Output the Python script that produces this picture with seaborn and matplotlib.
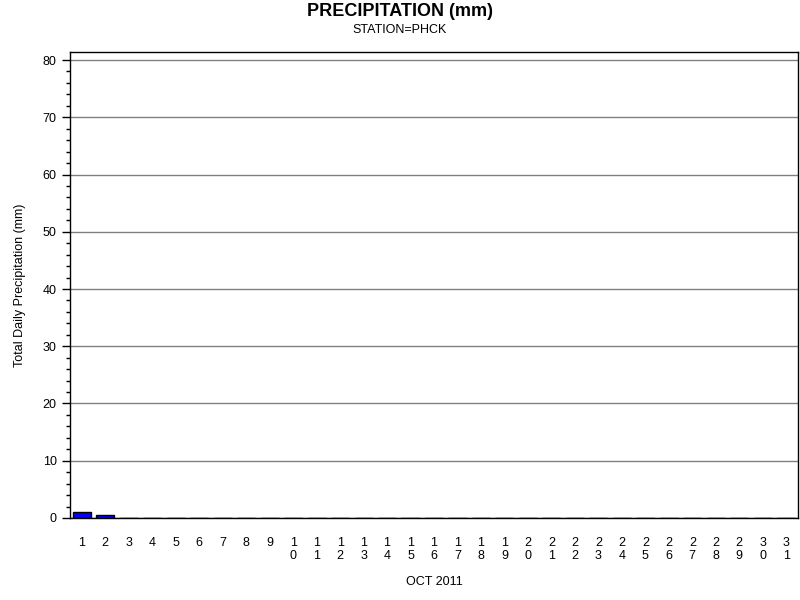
import pandas as pd
import matplotlib
matplotlib.use("Agg")
import matplotlib.pyplot as plt
from matplotlib.ticker import MultipleLocator
import seaborn as sns

# daily totals, Oct 2011, station PHCK
days = list(range(1, 32))
precip = [1.0, 0.5] + [0.0] * 29
day_labels = ["\n".join(str(d)) for d in days]

df = pd.DataFrame({"day": [str(d) for d in days], "precip": precip})

sns.set_style("white")
plt.rcParams["font.family"] = ["Liberation Sans", "DejaVu Sans"]
plt.rcParams["text.color"] = "black"
plt.rcParams["axes.labelcolor"] = "black"
plt.rcParams["xtick.color"] = "black"
plt.rcParams["ytick.color"] = "black"

fig = plt.figure(figsize=(8, 6), dpi=100)
ax = fig.add_axes([0.0875, 0.1367, 0.91, 0.7766])

sns.barplot(data=df, x="day", y="precip", order=[str(d) for d in days],
            color="#0000ff", edgecolor="black", linewidth=1, width=0.77,
            saturation=1, ax=ax, zorder=3)

ax.set_xlim(-0.5, 30.5)
ax.set_ylim(0, 81.4)
ax.yaxis.set_major_locator(MultipleLocator(10))
ax.yaxis.set_minor_locator(MultipleLocator(2))
ax.grid(axis="y", which="major", color="#808080", linewidth=1, zorder=0)
ax.tick_params(axis="y", which="major", length=6, width=1, labelsize=9, left=True, direction="out")
ax.tick_params(axis="y", which="minor", length=3, width=1, left=True, direction="out")
ax.set_xticks(range(31))
ax.set_xticklabels(day_labels, fontsize=9, linespacing=1.1)
ax.tick_params(axis="x", length=0, pad=14)
for s in ax.spines.values():
    s.set_color("black")
    s.set_linewidth(1)

ax.set_xlabel("OCT 2011", fontsize=9, labelpad=10)
ax.set_ylabel("Total Daily Precipitation (mm)", fontsize=9, labelpad=12)

fig.text(0.5, 0.98, "PRECIPITATION (mm)", ha="center", va="center", fontsize=13, fontweight="bold")
fig.text(0.5, 0.95, "STATION=PHCK", ha="center", va="center", fontsize=9)

fig.savefig("out.png", dpi=100)
